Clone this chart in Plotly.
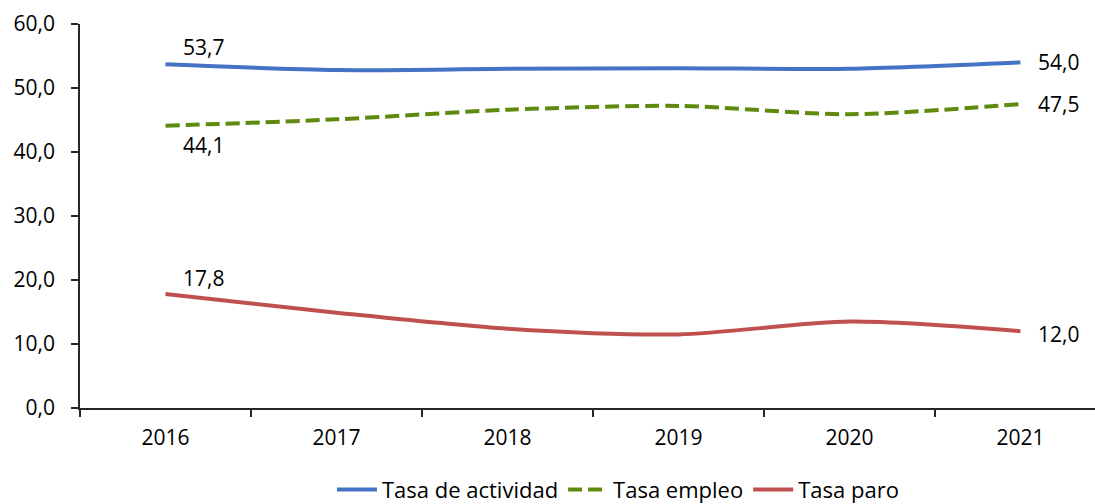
import plotly.graph_objects as go

years = ["2016", "2017", "2018", "2019", "2020", "2021"]
actividad = [53.7, 52.8, 53.0, 53.1, 53.0, 54.0]
empleo = [44.1, 45.1, 46.6, 47.2, 45.9, 47.5]
paro = [17.8, 14.9, 12.4, 11.5, 13.5, 12.0]
y_ticks = [0, 10, 20, 30, 40, 50, 60]
y_ticklabels = ["0,0", "10,0", "20,0", "30,0", "40,0", "50,0", "60,0"]

FONT = "'Open Sans', Lato, sans-serif"
FS = 21

def fmt(v):
    return f"{v:.1f}".replace(".", ",")

fig = go.Figure()
series = [
    ("Tasa de actividad", actividad, "#4472C4", "solid"),
    ("Tasa empleo", empleo, "#5E8B0F", "14px,6px"),
    ("Tasa paro", paro, "#C0504D", "solid"),
]
for name, vals, color, dash in series:
    fig.add_trace(go.Scatter(
        x=years, y=vals, name=name, mode="lines",
        line=dict(color=color, width=4, dash=dash, shape="spline", smoothing=0.8),
        hoverinfo="skip",
    ))

# data labels: first and last points (x given as category index)
label_specs = [
    (actividad, 0, 38, 17),
    (actividad, 5, 38, 0),
    (empleo, 0, 38, -19),
    (empleo, 5, 38, 0),
    (paro, 0, 38, 16),
    (paro, 5, 38, -3),
]
for vals, i, xs, ys in label_specs:
    fig.add_annotation(
        x=i, y=vals[i], xref="x", yref="y", text=fmt(vals[i]), showarrow=False,
        xshift=xs, yshift=ys, font=dict(family=FONT, size=FS, color="#000000"),
    )

fig.update_layout(
    width=1095, height=504,
    margin=dict(l=80, r=0, t=24, b=96, autoexpand=False),
    paper_bgcolor="white", plot_bgcolor="white",
    font=dict(family=FONT, size=FS, color="#000000"),
    showlegend=True,
    legend=dict(
        orientation="h", x=0.53, xanchor="center", y=-0.213, yanchor="middle",
        font=dict(family=FONT, size=22, color="#000000"),
        itemwidth=40, tracegroupgap=0,
    ),
    xaxis=dict(
        type="category", range=[-0.5, 5.436], automargin=False,
        showgrid=False, zeroline=False,
        showline=True, linecolor="#262626", linewidth=1.5,
        ticks="outside", tickson="boundaries", ticklen=7, tickcolor="#262626", tickwidth=1.5,
        ticklabelstandoff=10,
        tickfont=dict(family=FONT, size=FS, color="#000000"),
        fixedrange=True,
    ),
    yaxis=dict(
        range=[0, 60], tickvals=y_ticks, ticktext=y_ticklabels, automargin=False,
        showgrid=False, zeroline=False,
        showline=True, linecolor="#262626", linewidth=1.5,
        ticks="outside", ticklen=7, tickcolor="#262626", tickwidth=1.5,
        ticklabelstandoff=12,
        tickfont=dict(family=FONT, size=FS, color="#000000"),
        fixedrange=True,
    ),
)

fig.write_html(
    "out.html",
    config={"displayModeBar": False},
    post_script="document.body.style.margin='0';document.body.style.padding='0';document.body.style.overflow='hidden';",
)
